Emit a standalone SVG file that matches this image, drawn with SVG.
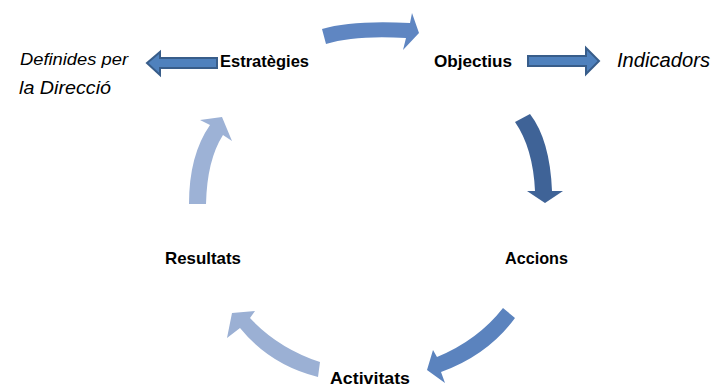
<svg xmlns="http://www.w3.org/2000/svg" width="716" height="387" viewBox="0 0 716 387">
<style>
.b{font-family:"Liberation Sans",Arial,sans-serif;font-weight:bold;font-size:17px;fill:#000}
.i{font-family:"Liberation Sans",Arial,sans-serif;font-style:italic;fill:#000}
.h{fill:#4f81bd;stroke:#385d8a;stroke-width:2;stroke-linejoin:miter}
</style>
<rect width="716" height="387" fill="#fff"/>
<g id="connectors">
<path id="c-top" d="M322,29 Q352,20 410,23 L412,13 L419,33 L403,50 L406,38 Q355,35 326,44 Z" fill="#5f86c2"/>
<path id="c-right" d="M515,122 L530,114 Q550,140 552,191 L563,191 L545,203 L527,191 L535,191 Q533,148 515,122 Z" fill="#3f6397"/>
<path id="c-botright" d="M503,308 L515,318 Q488,355 441,372 L445,383 L427,370 L433,350 L437,357 Q478,340 503,308 Z" fill="#5b83be"/>
<path id="c-botleft" d="M320,362 L318,377 Q270,365 240,328 L227,338 L232,313 L255,311 L250,318 Q278,348 320,362 Z" fill="#9bb0d4"/>
<path id="c-left" d="M189,204 Q189,155 210,125 L200,120 L222,117 L232,141 L223,135 Q207,160 206,204 Z" fill="#9db2d6"/>
<path id="c-estr" class="h" d="M217,58 L160,58 L160,52 L147,63 L160,75 L160,68 L217,68 Z"/>
<path id="c-obj" class="h" d="M528,56 L586,56 L586,48 L599,61 L586,74 L586,66 L528,66 Z"/>
</g>
<g id="n-estrategies"><text class="b" x="220" y="67" textLength="89" lengthAdjust="spacingAndGlyphs">Estratègies</text></g>
<g id="n-objectius"><text class="b" x="434" y="67" textLength="78" lengthAdjust="spacingAndGlyphs">Objectius</text></g>
<g id="n-indicadors"><text class="i" x="617" y="67" font-size="20" textLength="93" lengthAdjust="spacingAndGlyphs">Indicadors</text></g>
<g id="n-definides"><text class="i" x="20" y="65" font-size="16" textLength="108" lengthAdjust="spacingAndGlyphs">Definides per</text><text class="i" x="19" y="94" font-size="19" textLength="92" lengthAdjust="spacingAndGlyphs">la Direcció</text></g>
<g id="n-accions"><text class="b" x="505" y="264" textLength="63" lengthAdjust="spacingAndGlyphs">Accions</text></g>
<g id="n-resultats"><text class="b" x="165" y="264" textLength="76" lengthAdjust="spacingAndGlyphs">Resultats</text></g>
<g id="n-activitats"><text class="b" x="330" y="384" textLength="80" lengthAdjust="spacingAndGlyphs">Activitats</text></g>
</svg>
